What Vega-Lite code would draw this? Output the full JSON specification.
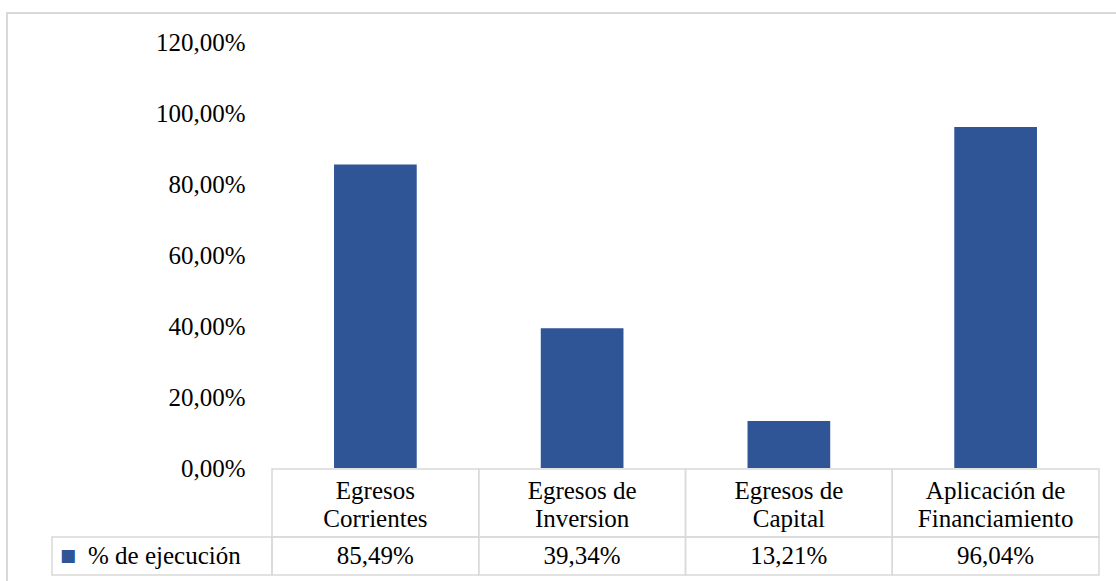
{
  "$schema": "https://vega.github.io/schema/vega-lite/v6.json",
  "autosize": {"type": "none"},
  "padding": {"left": 272, "top": 42, "right": 17, "bottom": 6},
  "width": 827,
  "height": 533,
  "background": "white",
  "config": {
    "view": {"stroke": null},
    "font": "Liberation Serif",
    "locale": {"number": {"decimal": ",", "thousands": ".", "grouping": [3], "currency": ["", " €"]}}
  },
  "datasets": {
    "rows": [
      {"cat": "Egresos\nCorrientes", "value": 0.8549},
      {"cat": "Egresos de\nInversion", "value": 0.3934},
      {"cat": "Egresos de\nCapital", "value": 0.1321},
      {"cat": "Aplicación de\nFinanciamiento", "value": 0.9604}
    ],
    "serie": [{"serie": "% de ejecución"}],
    "frame": [{"f": "frame"}]
  },
  "resolve": {"scale": {"x": "independent", "y": "independent"}},
  "layer": [
    {
      "data": {"name": "frame"},
      "mark": {"type": "rect", "fill": null, "stroke": "#d9d9d9", "strokeWidth": 2},
      "encoding": {
        "x": {"field": "f", "type": "nominal", "axis": null, "scale": {"domain": ["frame"], "range": [-265, 851], "paddingInner": 0, "paddingOuter": 0}},
        "y": {"field": "f", "type": "nominal", "axis": null, "scale": {"domain": ["frame"], "range": [-29, 545], "paddingInner": 0, "paddingOuter": 0}}
      }
    },
    {
      "data": {"name": "rows"},
      "mark": {"type": "bar", "color": "#2f5597"},
      "encoding": {
        "x": {"field": "cat", "type": "nominal", "sort": null, "axis": null, "scale": {"range": [0, 827], "paddingInner": 0.6, "paddingOuter": 0.3}},
        "y": {
          "field": "value", "type": "quantitative",
          "scale": {"domain": [0, 1.2], "range": [426, 0], "nice": false, "zero": true},
          "axis": {
            "values": [0, 0.2, 0.4, 0.6, 0.8, 1.0, 1.2],
            "format": ".2%",
            "title": null,
            "domain": false,
            "ticks": false,
            "tickSize": 0,
            "grid": false,
            "labelPadding": 27,
            "labelFont": "Liberation Serif",
            "labelFontSize": 25,
            "labelColor": "#000000",
            "labelBaseline": "middle"
          }
        }
      }
    },
    {
      "data": {"name": "rows"},
      "mark": {"type": "rect", "fill": "white", "fillOpacity": 0, "stroke": "#d9d9d9", "strokeWidth": 1.5},
      "encoding": {
        "x": {"field": "cat", "type": "nominal", "sort": null, "axis": null, "scale": {"range": [0, 827], "paddingInner": 0, "paddingOuter": 0}},
        "y": {"datum": "h", "type": "nominal", "axis": null, "scale": {"domain": ["h"], "range": [427, 495], "paddingInner": 0, "paddingOuter": 0}}
      }
    },
    {
      "data": {"name": "rows"},
      "mark": {"type": "rect", "fill": "white", "fillOpacity": 0, "stroke": "#d9d9d9", "strokeWidth": 1.5},
      "encoding": {
        "x": {"field": "cat", "type": "nominal", "sort": null, "axis": null, "scale": {"range": [0, 827], "paddingInner": 0, "paddingOuter": 0}},
        "y": {"datum": "d", "type": "nominal", "axis": null, "scale": {"domain": ["d"], "range": [495, 533], "paddingInner": 0, "paddingOuter": 0}}
      }
    },
    {
      "data": {"name": "serie"},
      "mark": {"type": "rect", "fill": "white", "fillOpacity": 0, "stroke": "#d9d9d9", "strokeWidth": 1.5},
      "encoding": {
        "x": {"datum": "legend", "type": "nominal", "axis": null, "scale": {"domain": ["legend"], "range": [-220, 0], "paddingInner": 0, "paddingOuter": 0}},
        "y": {"datum": "d", "type": "nominal", "axis": null, "scale": {"domain": ["d"], "range": [495, 533], "paddingInner": 0, "paddingOuter": 0}}
      }
    },
    {
      "data": {"name": "rows"},
      "mark": {"type": "text", "lineBreak": "\n", "lineHeight": 28, "fontSize": 25, "font": "Liberation Serif", "color": "#000000", "align": "center", "baseline": "middle", "dy": -12},
      "encoding": {
        "x": {"field": "cat", "type": "nominal", "sort": null, "axis": null, "scale": {"range": [0, 827], "paddingInner": 0, "paddingOuter": 0}},
        "y": {"datum": "h", "type": "nominal", "axis": null, "scale": {"domain": ["h"], "range": [427, 495], "paddingInner": 0, "paddingOuter": 0}},
        "text": {"field": "cat", "type": "nominal"}
      }
    },
    {
      "data": {"name": "rows"},
      "mark": {"type": "text", "fontSize": 25, "font": "Liberation Serif", "color": "#000000", "align": "center", "baseline": "middle"},
      "encoding": {
        "x": {"field": "cat", "type": "nominal", "sort": null, "axis": null, "scale": {"range": [0, 827], "paddingInner": 0, "paddingOuter": 0}},
        "y": {"datum": "d", "type": "nominal", "axis": null, "scale": {"domain": ["d"], "range": [495, 533], "paddingInner": 0, "paddingOuter": 0}},
        "text": {"field": "value", "type": "quantitative", "format": ".2%"}
      }
    },
    {
      "data": {"name": "serie"},
      "mark": {"type": "text", "fontSize": 25, "font": "Liberation Serif", "color": "#000000", "align": "left", "baseline": "middle", "dx": -74},
      "encoding": {
        "x": {"datum": "legend", "type": "nominal", "axis": null, "scale": {"domain": ["legend"], "range": [-220, 0], "paddingInner": 0, "paddingOuter": 0}},
        "y": {"datum": "d", "type": "nominal", "axis": null, "scale": {"domain": ["d"], "range": [495, 533], "paddingInner": 0, "paddingOuter": 0}},
        "text": {"field": "serie", "type": "nominal"}
      }
    },
    {
      "data": {"name": "serie"},
      "mark": {"type": "text", "text": "■", "fontSize": 17, "font": "DejaVu Sans", "color": "#2f5597", "align": "left", "baseline": "middle", "dx": -102},
      "encoding": {
        "x": {"datum": "legend", "type": "nominal", "axis": null, "scale": {"domain": ["legend"], "range": [-220, 0], "paddingInner": 0, "paddingOuter": 0}},
        "y": {"datum": "d", "type": "nominal", "axis": null, "scale": {"domain": ["d"], "range": [495, 533], "paddingInner": 0, "paddingOuter": 0}}
      }
    }
  ]
}
